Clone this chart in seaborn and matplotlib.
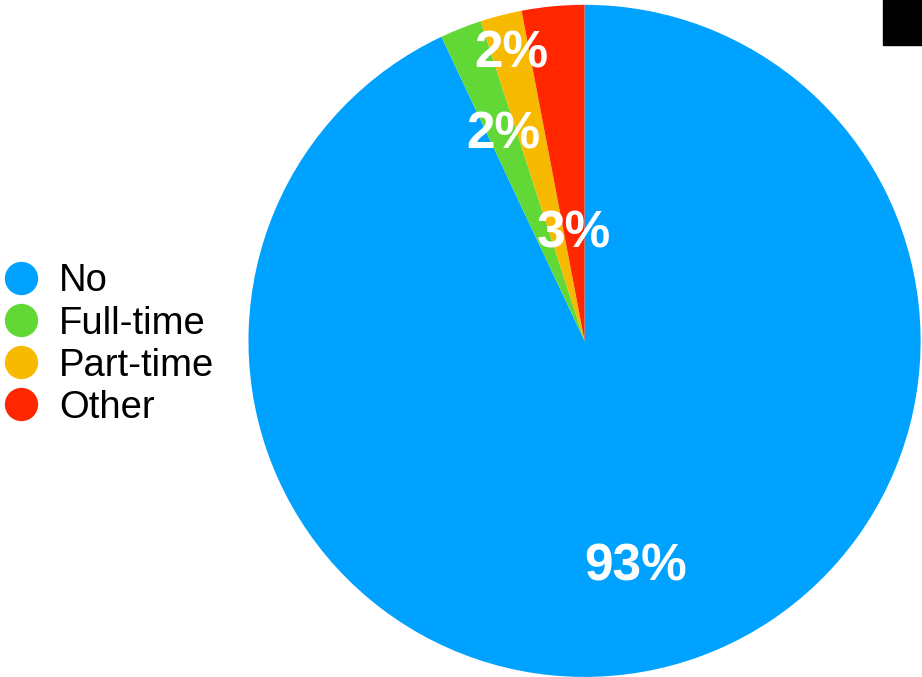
import matplotlib
matplotlib.use('Agg')
import matplotlib.pyplot as plt
import seaborn as sns
import numpy as np
from matplotlib.lines import Line2D
from matplotlib.patches import Rectangle

# Data
categories = ['No', 'Full-time', 'Part-time', 'Other']
shares = [93, 2, 2, 3]
colors = ['#00A2FF', '#61D836', '#F8BA00', '#FF2600']
# how far out each percentage label sits (fraction of radius)
label_radius = [0.69, 0.66, 0.88, 0.32]

sns.set_theme(style='white')
plt.rcParams['font.family'] = ['Liberation Sans', 'DejaVu Sans']
plt.rcParams['text.color'] = 'black'

fig = plt.figure(figsize=(9.22, 6.77), dpi=100)
ax = fig.add_axes([0.2695, 0.0, 0.729, 0.993])

palette = sns.color_palette(colors)
wedges, texts, autotexts = ax.pie(
    shares, colors=palette, startangle=90, counterclock=False,
    autopct=lambda p: f'{p:.0f}%', radius=1,
    wedgeprops=dict(linewidth=0),
    textprops=dict(color='white', fontsize=37, fontweight='bold'))

# move the labels to where they sit in the original
for w, t, r in zip(wedges, autotexts, label_radius):
    ang = np.deg2rad((w.theta1 + w.theta2) / 2)
    t.set_position((r * np.cos(ang), r * np.sin(ang)))

ax.set_xlim(-1, 1)
ax.set_ylim(-1, 1)
ax.set_aspect('equal')
ax.axis('off')

handles = [Line2D([], [], marker='o', linestyle='', markersize=24,
                  markerfacecolor=c, markeredgewidth=0) for c in palette]
fig.legend(handles, categories, loc='center left', bbox_to_anchor=(0, 0.491),
           frameon=False, fontsize=27.5, handlelength=1.1, handletextpad=0.45,
           labelspacing=0.16, borderpad=0, borderaxespad=0, labelcolor='black')

# black block in the top right corner
fig.add_artist(Rectangle((883 / 922, 1 - 45 / 677), 39 / 922, 45 / 677,
                         transform=fig.transFigure, color='black'))

fig.savefig('out.png', dpi=100)
